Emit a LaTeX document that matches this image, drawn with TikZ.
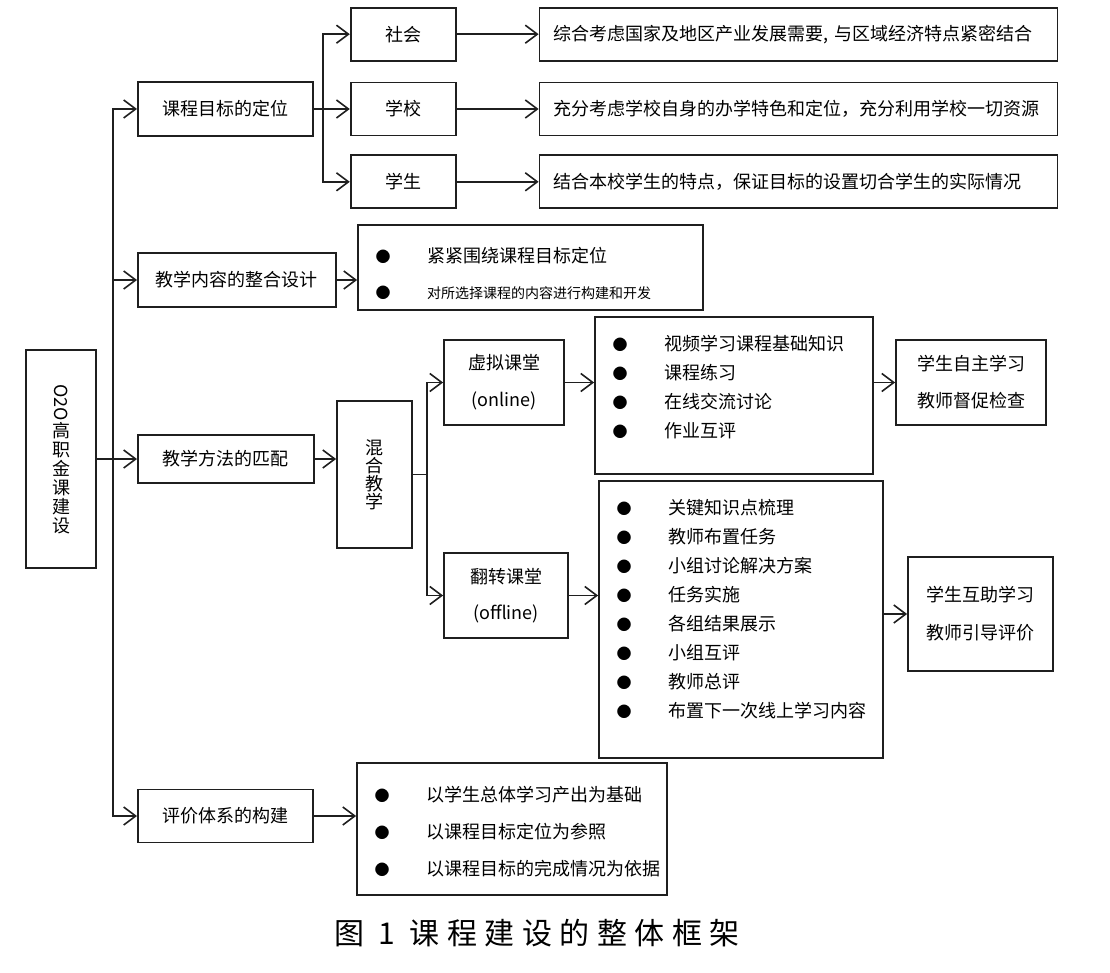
\documentclass[tikz,border=0pt]{standalone}
\usepackage{fontspec}
\usepackage{graphicx}
\setmainfont{Noto Sans CJK SC}
\usetikzlibrary{arrows.meta, positioning}

% one bullet line of a list box
\newcommand{\bitem}[1]{\par\makebox[69pt][l]{\hspace{18pt}\makebox[14pt]{\fontsize{15}{15}\selectfont ●}}#1}
% list box body: width, height, top gap, lines
\newcommand{\blist}[4]{\begin{minipage}[c][#2][t]{#1}\vspace*{#3}#4\end{minipage}}

\begin{document}
\begin{tikzpicture}[
  x=1pt, y=-1pt,
  box/.style={draw=black!88, line width=1.8pt, inner sep=0pt, align=center,
              font=\fontsize{18}{22}\selectfont},
  desc/.style={draw=black!88, line width=1.8pt, inner xsep=14pt, inner ysep=0pt,
               text width=490pt, align=left, minimum height=53pt,
               font=\fontsize{18}{22}\selectfont},
  listbox/.style={draw=black!88, line width=1.8pt, inner sep=0pt},
  arrow/.style={-{Straight Barb[length=12pt,width=18pt]}, line width=1.6pt,
                black!88, line cap=rect},
  line/.style={line width=1.6pt, black!88}
]
\useasboundingbox (0,0) rectangle (1110,973);

\node[box, minimum width=70pt, minimum height=218pt,
      font=\fontsize{18}{19}\selectfont] (root) at (61,459)
      {\rotatebox{-90}{O2O}\\高\\职\\金\\课\\建\\设};

\node[box, anchor=west, minimum width=175pt, minimum height=54pt] (goal)    at (137,109) {课程目标的定位};
\node[box, anchor=west, minimum width=198pt, minimum height=54pt] (content) at (137,280) {教学内容的整合设计};
\node[box, anchor=west, minimum width=176pt, minimum height=48pt] (method)  at (137,459) {教学方法的匹配};
\node[box, anchor=west, minimum width=175pt, minimum height=53pt] (eval)    at (137,816) {评价体系的构建};

\node[box, minimum width=105pt, minimum height=53pt, right=36pt of goal] (sch) {学校};
\node[box, minimum width=105pt, minimum height=53pt, above=20pt of sch]  (soc) {社会};
\node[box, minimum width=105pt, minimum height=53pt, below=18pt of sch]  (stu) {学生};

\node[desc, right=82pt of soc] (socd) {综合考虑国家及地区产业发展需要, 与区域经济特点紧密结合};
\node[desc, right=82pt of sch] (schd) {充分考虑学校自身的办学特色和定位，充分利用学校一切资源};
\node[desc, right=82pt of stu] (stud) {结合本校学生的特点，保证目标的设置切合学生的实际情况};

\node[listbox, font=\fontsize{18}{36}\selectfont] (cont) at (530.5,267.5)
  {\blist{345pt}{85pt}{22pt}{\bitem{紧紧围绕课程目标定位}\bitem{{\fontsize{14}{36}\selectfont 对所选择课程的内容进行构建和开发}}}};

\node[box, minimum width=75pt, minimum height=147pt,
      font=\fontsize{18}{18}\selectfont] (mix) at (374.5,474.5) {混\\合\\教\\学};

\node[box, minimum width=120pt, minimum height=85pt,
      font=\fontsize{18}{37}\selectfont] (vir)  at (504,382.5) {虚拟课堂\\(online)};
\node[box, minimum width=124pt, minimum height=85pt,
      font=\fontsize{18}{36}\selectfont] (flip) at (506,595.5) {翻转课堂\\(offline)};

\node[listbox, font=\fontsize{18}{29}\selectfont] (onl) at (734,395.5)
  {\blist{278pt}{157pt}{18pt}{\bitem{视频学习课程基础知识}\bitem{课程练习}\bitem{在线交流讨论}\bitem{作业互评}}};
\node[listbox, font=\fontsize{18}{29}\selectfont] (off) at (741,619.5)
  {\blist{284pt}{277pt}{18pt}{\bitem{关键知识点梳理}\bitem{教师布置任务}\bitem{小组讨论解决方案}\bitem{任务实施}%
   \bitem{各组结果展示}\bitem{小组互评}\bitem{教师总评}\bitem{布置下一次线上学习内容}}};

\node[box, minimum width=150pt, minimum height=85pt,
      font=\fontsize{18}{37}\selectfont] (self) at (971,382.5) {学生自主学习\\教师督促检查};
\node[box, minimum width=145pt, minimum height=114pt,
      font=\fontsize{18}{38}\selectfont] (peer) at (980.5,614) {学生互助学习\\教师引导评价};

\node[listbox, font=\fontsize{18}{37}\selectfont] (crit) at (512,829)
  {\blist{310pt}{132pt}{23pt}{\bitem{以学生总体学习产出为基础}\bitem{以课程目标定位为参照}\bitem{以课程目标的完成情况为依据}}};

\node[font=\fontsize{30}{36}\selectfont\addfontfeatures{LetterSpace=25}] (cap) at (537,933)
  {图 1 课程建设的整体框架};

\coordinate (tk) at (113,0);
\coordinate (gb) at (323,0);
\coordinate (mb) at (427,0);

\draw[arrow] (root.east) -- (method.west);
\draw[arrow] (eval.west -| tk) -- (goal.west -| tk) -- (goal.west);
\draw[arrow] (content.west -| tk) -- (content.west);
\draw[arrow] (eval.west -| tk) -- (eval.west);

\draw[arrow] (goal.east) -- (sch.west);
\draw[arrow] (stu.west -| gb) -- (soc.west -| gb) -- (soc.west);
\draw[arrow] (stu.west -| gb) -- (stu.west);
\draw[arrow] (soc.east) -- (socd.west);
\draw[arrow] (sch.east) -- (schd.west);
\draw[arrow] (stu.east) -- (stud.west);

\draw[arrow] (content.east) -- (content.east -| cont.west);

\draw[arrow] (method.east) -- (method.east -| mix.west);
\draw[line]  (mix.east) -- (mix.east -| mb);
\draw[arrow] (flip.west -| mb) -- (vir.west -| mb) -- (vir.west);
\draw[arrow] (flip.west -| mb) -- (flip.west);
\draw[arrow] (vir.east) -- (vir.east -| onl.west);
\draw[arrow] (flip.east) -- (flip.east -| off.west);
\draw[arrow] (self.west -| onl.east) -- (self.west);
\draw[arrow] (peer.west -| off.east) -- (peer.west);

\draw[arrow] (eval.east) -- (eval.east -| crit.west);
\end{tikzpicture}
\end{document}
